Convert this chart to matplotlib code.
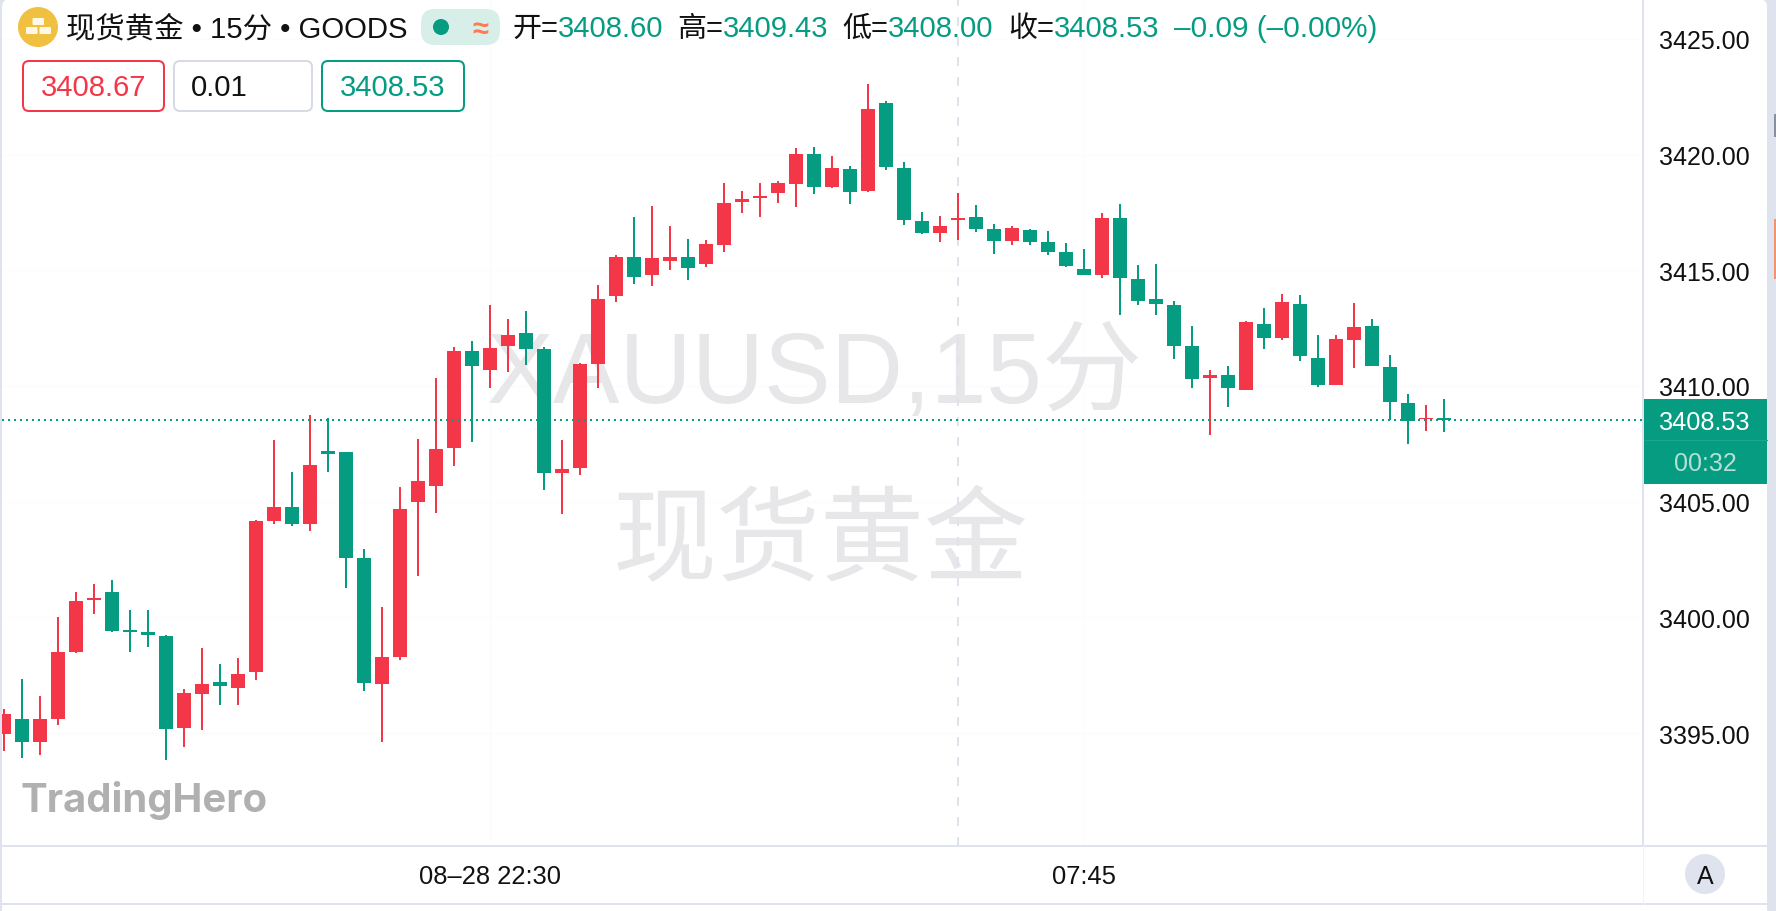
import numpy as np
import matplotlib
matplotlib.use('Agg')
import matplotlib.pyplot as plt
from matplotlib.patches import Rectangle, FancyBboxPatch, Circle

opens = [3394.96, 3395.61, 3394.62, 3395.61, 3398.51, 3400.75, 3401.10, 3399.46, 3399.37, 3399.20,
         3395.22, 3396.69, 3397.21, 3396.95, 3397.64, 3404.17, 3404.77, 3404.04, 3407.19, 3407.15,
         3402.57, 3397.12, 3398.29, 3404.98, 3405.68, 3407.32, 3411.51, 3410.69, 3411.73, 3412.29,
         3411.60, 3406.24, 3406.46, 3410.95, 3413.89, 3415.57, 3414.80, 3415.40, 3415.57, 3415.27,
         3416.09, 3417.95, 3418.12, 3418.34, 3418.73, 3420.03, 3418.60, 3419.38, 3418.43, 3422.23,
         3419.42, 3417.13, 3416.61, 3417.17, 3417.30, 3416.79, 3416.27, 3416.74, 3416.22, 3415.79,
         3415.06, 3414.80, 3417.26, 3414.62, 3413.76, 3413.50, 3411.73, 3410.34, 3410.47, 3409.83,
         3412.68, 3412.07, 3413.54, 3411.21, 3410.04, 3411.99, 3412.59, 3410.82, 3409.26, 3408.57,
         3408.60]
highs = [3396.04, 3397.34, 3396.60, 3400.02, 3401.10, 3401.44, 3401.62, 3400.32, 3400.32, 3399.24,
         3396.91, 3398.67, 3397.98, 3398.25, 3404.21, 3407.67, 3406.28, 3408.75, 3408.62, 3407.15,
         3402.95, 3400.45, 3405.63, 3407.71, 3410.35, 3411.69, 3411.95, 3413.50, 3412.90, 3413.24,
         3411.69, 3407.67, 3411.00, 3414.37, 3415.66, 3417.31, 3417.78, 3416.92, 3416.35, 3416.31,
         3418.77, 3418.43, 3418.77, 3418.86, 3420.28, 3420.33, 3419.94, 3419.51, 3423.05, 3422.32,
         3419.68, 3417.52, 3417.35, 3418.34, 3417.82, 3417.00, 3416.92, 3416.79, 3416.70, 3416.18,
         3415.92, 3417.48, 3417.87, 3415.23, 3415.27, 3413.67, 3412.59, 3410.69, 3410.86, 3412.81,
         3413.37, 3413.97, 3413.93, 3412.20, 3412.20, 3413.59, 3412.89, 3411.34, 3409.65, 3409.18,
         3409.43]
lows = [3394.23, 3393.92, 3394.05, 3395.35, 3398.46, 3400.15, 3399.37, 3398.51, 3398.72, 3393.84,
        3394.40, 3395.13, 3396.21, 3396.21, 3397.29, 3404.04, 3403.95, 3403.73, 3406.28, 3401.27,
        3396.82, 3394.62, 3398.16, 3401.79, 3404.51, 3406.55, 3407.58, 3409.92, 3410.61, 3410.91,
        3405.51, 3404.47, 3406.15, 3409.92, 3413.63, 3414.41, 3414.32, 3415.01, 3414.58, 3415.14,
        3415.79, 3417.48, 3417.31, 3417.91, 3417.74, 3418.30, 3418.56, 3417.87, 3418.38, 3419.34,
        3416.96, 3416.57, 3416.22, 3416.31, 3416.66, 3415.71, 3416.09, 3416.09, 3415.66, 3415.14,
        3414.80, 3414.67, 3413.07, 3413.50, 3413.07, 3411.17, 3409.91, 3407.88, 3409.09, 3409.83,
        3411.60, 3411.99, 3411.08, 3409.96, 3410.04, 3410.78, 3410.86, 3408.53, 3407.49, 3408.05,
        3408.00]
closes = [3395.83, 3394.62, 3395.61, 3398.51, 3400.71, 3400.84, 3399.41, 3399.37, 3399.24, 3395.17,
          3396.73, 3397.12, 3397.04, 3397.55, 3404.17, 3404.77, 3404.04, 3406.59, 3407.06, 3402.57,
          3397.16, 3398.29, 3404.68, 3405.89, 3407.28, 3411.51, 3410.87, 3411.64, 3412.21, 3411.60,
          3406.24, 3406.42, 3410.95, 3413.76, 3415.57, 3414.71, 3415.53, 3415.57, 3415.10, 3416.14,
          3417.91, 3418.08, 3418.21, 3418.77, 3420.03, 3418.60, 3419.42, 3418.39, 3421.97, 3419.46,
          3417.17, 3416.61, 3416.92, 3417.26, 3416.79, 3416.27, 3416.83, 3416.22, 3415.79, 3415.19,
          3414.80, 3417.26, 3414.67, 3413.67, 3413.54, 3411.73, 3410.30, 3410.47, 3409.91, 3412.76,
          3412.07, 3413.63, 3411.30, 3410.04, 3412.03, 3412.55, 3410.86, 3409.31, 3408.49, 3408.62,
          3408.53]

price_ticks = [3395, 3400, 3405, 3410, 3415, 3420, 3425]
time_ticks = [27, 60]
time_labels = ['08–28 22:30', '07:45']
cursor_bar = 53
ask, spread, bid = '3408.67', '0.01', '3408.53'
title = '现货黄金 • 15分 • GOODS'
change = '–0.09 (–0.00%)'
countdown = '00:32'

RED = '#f43748'
GREEN = '#059c82'
FRAME = '#dfe3ee'
MARK = '#e7e7e9'
LATIN_CJK = ['Liberation Sans', 'Noto Sans CJK SC']
plt.rcParams['font.family'] = LATIN_CJK

W, H = 1776, 912
px = 72 / 100  # points per pixel at dpi 100

fig = plt.figure(figsize=(W / 100, H / 100), dpi=100, facecolor='white')

# frame behind everything
bg = fig.add_axes([0, 0, 1, 1], zorder=0)
bg.set_xlim(0, W)
bg.set_ylim(H, 0)
bg.axis('off')
bg.add_patch(Rectangle((0, 0), W, H, color=FRAME, lw=0))
bg.add_patch(FancyBboxPatch((2 + 8, 0 + 8), 1765 - 16, H + 30, boxstyle='round,pad=8,rounding_size=8',
                            fc='white', ec='none'))

# price chart
ax = fig.add_axes([2 / W, 1 - 847 / H, 1641 / W, 847 / H], zorder=1)
ax.patch.set_alpha(0)
ax.set_xlim((2 - 4) / 18, (1643 - 4) / 18)
ax.set_ylim(3410 - (847 - 387) / 23.14, 3410 + 387 / 23.14)

x = np.arange(len(closes))
o = np.array(opens)
c = np.array(closes)
colors = [RED if c1 >= o1 else GREEN for o1, c1 in zip(o, c)]

ax.grid(color='#fcfcfd', linewidth=1, zorder=0)
ax.set_axisbelow(True)
ax.text((815 - 2) / 1641, 1 - 403 / 847, 'XAUUSD,15分', transform=ax.transAxes, ha='center', va='baseline',
        fontsize=100 * px, color=MARK, zorder=1)
ax.text(0.5 - 0.001, 1 - 543 / 847, '现货黄金', transform=ax.transAxes, ha='center', va='center',
        fontsize=104 * px, color=MARK, family=['Noto Sans CJK SC'], zorder=1)
ax.axvline(cursor_bar, color=FRAME, linewidth=2 * px, linestyle=(0, (9 / 2, 11 / 2)), zorder=2)
ax.vlines(x, lows, highs, colors=colors, linewidth=2 * px, zorder=3)
ax.bar(x, np.abs(c - o), bottom=np.minimum(o, c), width=14 / 18, color=colors, linewidth=0, zorder=4)
ax.axhline(closes[-1], color=GREEN, linewidth=2 * px, linestyle=(0, (1, 2)), zorder=5)

ax.yaxis.tick_right()
ax.set_yticks(price_ticks)
ax.set_yticklabels(['%.2f' % p for p in price_ticks])
ax.set_xticks(time_ticks)
ax.set_xticklabels(time_labels)
ax.tick_params(axis='y', length=0, labelsize=25 * px, pad=16 * px, labelcolor='#111111')
ax.tick_params(axis='x', length=0, labelsize=25.5 * px, pad=18 * px, labelcolor='#111111')
for s in ax.spines.values():
    s.set_visible(False)

# everything drawn in pixel coordinates above the chart
ov = fig.add_axes([0, 0, 1, 1], zorder=2)
ov.set_xlim(0, W)
ov.set_ylim(H, 0)
ov.axis('off')
ov.patch.set_alpha(0)

ov.plot([2, 1767], [847, 847], color=FRAME, lw=2 * px)
ov.plot([2, 1767], [905, 905], color=FRAME, lw=2 * px)
ov.plot([1643, 1643], [0, 847], color=FRAME, lw=2 * px)
ov.plot([1643, 1643], [847, 905], color='#f2f3f7', lw=1 * px)
ov.add_patch(Rectangle((1774, 115), 2, 23, color='#8a8f9c', lw=0))
ov.add_patch(Rectangle((1774, 220), 2, 60, color='#f0936f', lw=0))

# header
ov.add_patch(Circle((38, 28), 20, fc='#f0c040', ec='none'))
for bx, by in [(32.5, 19), (26, 28), (39.5, 28)]:
    ov.add_patch(FancyBboxPatch((bx + 1, by + 1), 9.5, 5, boxstyle='round,pad=1,rounding_size=1',
                                fc='#fff8e6', ec='none'))
ov.text(66, 26, title, fontsize=29.4 * px, color='#111111', va='center_baseline')
ov.add_patch(FancyBboxPatch((421 + 14, 10 + 14), 79 - 28, 36 - 28, boxstyle='round,pad=14,rounding_size=14',
                            fc='#d8efe9', ec='none'))
ov.add_patch(Circle((441, 28), 8, fc=GREEN, ec='none'))
ov.text(480, 27, '≈', fontsize=29 * px, color='#ff7a50', fontweight='bold', ha='center',
        va='center_baseline')

for lx, lab, val in [(512, '开=', opens[-1]), (677, '高=', highs[-1]), (842, '低=', lows[-1]), (1008, '收=', closes[-1])]:
    ov.text(lx, 26, lab, fontsize=29 * px, color='#111111', va='center_baseline')
    ov.text(lx + 46, 26, '%.2f' % val, fontsize=29.3 * px, color=GREEN, va='center_baseline')
ov.text(1174, 26, change, fontsize=29.8 * px, color=GREEN, va='center_baseline')

for bx0, bx1, col, txt, tcol, tx in [(23, 164, RED, ask, RED, 94),
                                     (174, 312, '#d6dae5', spread, '#111111', 219),
                                     (322, 464, GREEN, bid, GREEN, 393)]:
    ov.add_patch(FancyBboxPatch((bx0 + 6, 62 + 6), bx1 - bx0 - 12, 50 - 12,
                                boxstyle='round,pad=6,rounding_size=6', fc='white', ec=col, lw=2 * px))
    ov.text(tx, 85, txt, fontsize=29.3 * px, color=tcol, ha='center', va='center_baseline')

# last price tag
ov.add_patch(Rectangle((1644, 400), 123, 85, color=GREEN, lw=0))
ov.plot([1644, 1767], [441, 441], color='#1aa68e', lw=1 * px)
ov.text(1705, 421, '%.2f' % closes[-1], fontsize=25.3 * px, color='white', ha='center', va='center_baseline')
ov.text(1705, 462, countdown, fontsize=25 * px, color='#b5e0d5', ha='center', va='center_baseline')

ov.add_patch(Circle((1705, 875), 20, fc=FRAME, ec='none'))
ov.text(1705, 875, 'A', fontsize=25 * px, color='#111111', ha='center', va='center_baseline')

ov.text(20, 812, 'TradingHero', fontsize=40 * px, color='#b0b0b0', family=['Inter'], fontweight='bold',
        ha='left', va='baseline')

fig.savefig('out.png', dpi=100)
